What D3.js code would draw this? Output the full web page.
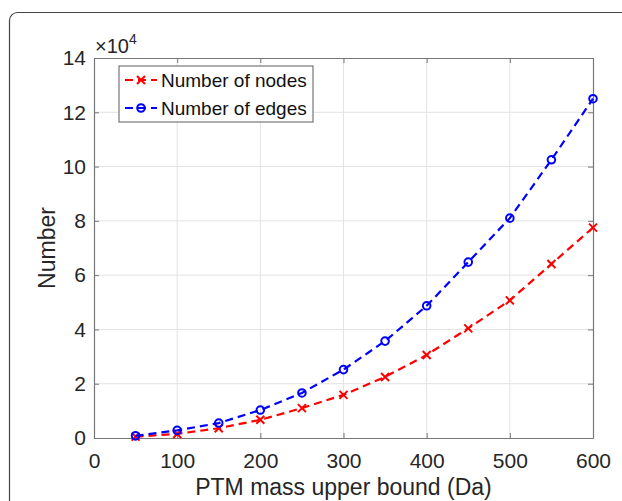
<!DOCTYPE html>
<html>
<head>
<meta charset="utf-8">
<script src="https://cdn.jsdelivr.net/npm/d3@7"></script>
<style>
  body { margin: 0; background: #fff; }
  svg { font-family: "Liberation Sans", Arial, sans-serif; }
</style>
</head>
<body>
<div id="chart"></div>
<script>
// data (y values in units of 10^4)
const massBound = [50, 100, 150, 200, 250, 300, 350, 400, 450, 500, 550, 600];
const nodes = [0.05, 0.15, 0.36, 0.67, 1.1, 1.59, 2.25, 3.06, 4.04, 5.07, 6.41, 7.75];
const edges = [0.08, 0.28, 0.55, 1.03, 1.66, 2.52, 3.57, 4.87, 6.48, 8.1, 10.25, 12.5];
const xTicks = [0, 100, 200, 300, 400, 500, 600];
const yTicks = [0, 2, 4, 6, 8, 10, 12, 14];

function init() {
    const width = 622, height = 501;
    const margin = { left: 94, right: 29, top: 58, bottom: 63 };

    const svg = d3.select("#chart").append("svg")
        .attr("width", width)
        .attr("height", height);

    // outer rounded frame
    svg.append("rect")
        .attr("x", 9.5).attr("y", 12.5)
        .attr("width", 640).attr("height", 520)
        .attr("rx", 8)
        .attr("fill", "none")
        .attr("stroke", "#444")
        .attr("stroke-width", 1.2);

    const x = d3.scaleLinear().domain([0, 600]).range([margin.left, width - margin.right]);
    const y = d3.scaleLinear().domain([0, 14]).range([height - margin.bottom, margin.top]);

    const x0 = x.range()[0], x1 = x.range()[1];
    const y0 = y.range()[0], y1 = y.range()[1];

    // grid
    const grid = svg.append("g").attr("stroke", "#e3e3e3").attr("stroke-width", 1);
    grid.selectAll(".gx").data(xTicks.slice(1, -1)).enter().append("line")
        .attr("x1", d => x(d)).attr("x2", d => x(d))
        .attr("y1", y0).attr("y2", y1);
    grid.selectAll(".gy").data(yTicks.slice(1, -1)).enter().append("line")
        .attr("x1", x0).attr("x2", x1)
        .attr("y1", d => y(d)).attr("y2", d => y(d));

    // axes with inward ticks
    const tickLen = 5;
    const axisColor = "#777";
    const bottom = svg.append("g").attr("transform", `translate(0,${y0})`)
        .call(d3.axisBottom(x).tickValues(xTicks).tickSizeInner(-tickLen).tickSizeOuter(0).tickPadding(15));
    const top = svg.append("g").attr("transform", `translate(0,${y1})`)
        .call(d3.axisTop(x).tickValues(xTicks).tickSizeInner(-tickLen).tickSizeOuter(0).tickFormat(""));
    const left = svg.append("g").attr("transform", `translate(${x0},0)`)
        .call(d3.axisLeft(y).tickValues(yTicks).tickSizeInner(-tickLen).tickSizeOuter(0).tickPadding(8));
    const right = svg.append("g").attr("transform", `translate(${x1},0)`)
        .call(d3.axisRight(y).tickValues(yTicks).tickSizeInner(-tickLen).tickSizeOuter(0).tickFormat(""));

    [bottom, top, left, right].forEach(g => {
        g.select(".domain").attr("stroke", axisColor).attr("stroke-width", 1.2);
        g.selectAll(".tick line").attr("stroke", axisColor);
        g.selectAll(".tick text").attr("fill", "#262626").style("font-size", "21px");
    });

    // axis labels
    svg.append("text")
        .attr("x", (x0 + x1) / 2).attr("y", 495)
        .attr("text-anchor", "middle")
        .style("font-size", "23px").attr("fill", "#262626")
        .text("PTM mass upper bound (Da)");
    svg.append("text")
        .attr("transform", `translate(55,${(y0 + y1) / 2}) rotate(-90)`)
        .attr("text-anchor", "middle")
        .style("font-size", "23px").attr("fill", "#262626")
        .text("Number");

    // exponent label
    const expo = svg.append("text").attr("x", 95).attr("y", 53)
        .style("font-size", "20px").attr("fill", "#262626");
    expo.append("tspan").text("\u00d710");
    expo.append("tspan").attr("dy", -9).style("font-size", "14px").text("4");

    const line = d3.line().x(d => x(d[0])).y(d => y(d[1]));

    const series = [
        { name: "Number of nodes", values: nodes, color: "#ff0000", marker: "x" },
        { name: "Number of edges", values: edges, color: "#0000ff", marker: "o" }
    ];

    series.forEach(s => {
        const pts = massBound.map((m, i) => [m, s.values[i]]);
        svg.append("path")
            .attr("d", line(pts))
            .attr("fill", "none")
            .attr("stroke", s.color)
            .attr("stroke-width", 2.2)
            .attr("stroke-dasharray", "8,5");
        drawMarkers(svg, pts.map(p => [x(p[0]), y(p[1])]), s);
    });

    function drawMarkers(g, pts, s) {
        pts.forEach(p => {
            if (s.marker === "x") {
                g.append("path")
                    .attr("d", `M${p[0] - 4},${p[1] - 4}L${p[0] + 4},${p[1] + 4}M${p[0] - 4},${p[1] + 4}L${p[0] + 4},${p[1] - 4}`)
                    .attr("stroke", s.color).attr("stroke-width", 2);
            } else {
                g.append("circle")
                    .attr("cx", p[0]).attr("cy", p[1]).attr("r", 3.8)
                    .attr("fill", "none").attr("stroke", s.color).attr("stroke-width", 2);
            }
        });
    }

    // legend
    const lg = svg.append("g").attr("transform", "translate(119,66)");
    lg.append("rect")
        .attr("width", 194).attr("height", 56)
        .attr("fill", "#fff").attr("stroke", axisColor).attr("stroke-width", 1.2);
    series.forEach((s, i) => {
        const ly = 14 + i * 28;
        lg.append("line")
            .attr("x1", 6).attr("x2", 38).attr("y1", ly).attr("y2", ly)
            .attr("stroke", s.color).attr("stroke-width", 2.2)
            .attr("stroke-dasharray", "8,5");
        drawMarkers(lg, [[22, ly]], s);
        lg.append("text")
            .attr("x", 42).attr("y", ly + 7)
            .style("font-size", "19px").attr("fill", "#111")
            .text(s.name);
    });
}

window.onload = init;
</script>
</body>
</html>
